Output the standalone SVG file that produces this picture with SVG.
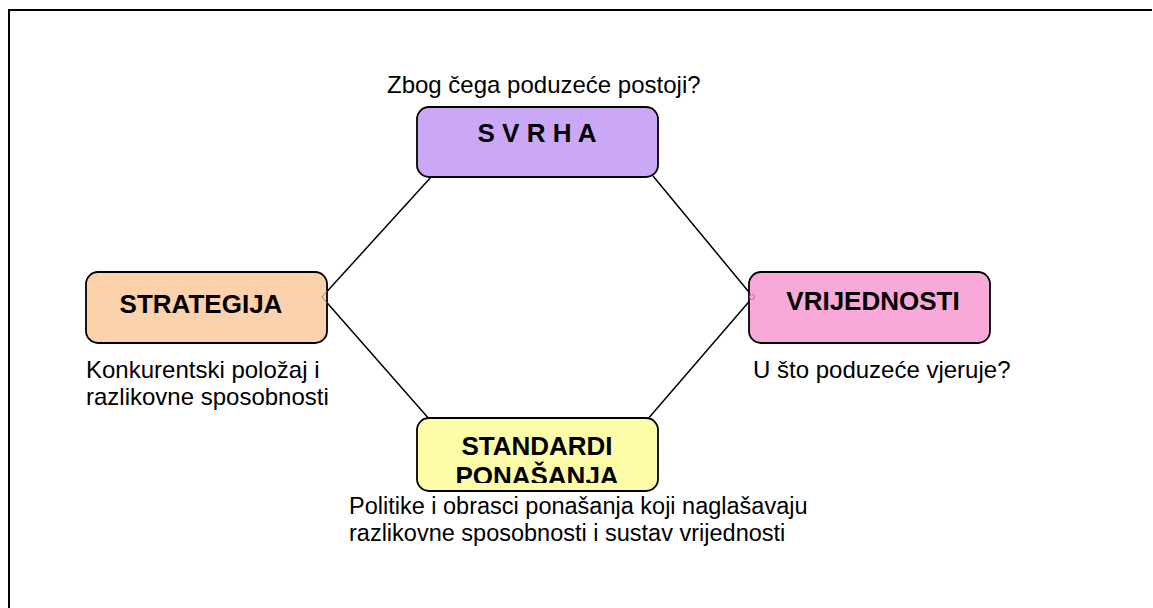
<svg xmlns="http://www.w3.org/2000/svg" width="1153" height="608" viewBox="0 0 1153 608">
<style>
.box{stroke:#000;stroke-width:1.8}
.lbl{font-family:"Liberation Sans",Arial,sans-serif;font-weight:bold;font-size:26px;fill:#000;text-anchor:middle}
.cap{font-family:"Liberation Sans",Arial,sans-serif;font-size:24px;fill:#000}
.cap2{font-family:"Liberation Sans",Arial,sans-serif;font-size:23.5px;fill:#000}
.conn{stroke:#000;stroke-width:1.5;fill:none}
</style>
<defs>
<clipPath id="clipStd"><rect x="417" y="418" width="241" height="65"/></clipPath>
</defs>
<rect width="1153" height="608" fill="#fff"/>
<path d="M9,608 V10 H1152" fill="none" stroke="#000" stroke-width="2"/>
<g id="connectors">
<line class="conn" x1="432" y1="176" x2="322" y2="297"/>
<line class="conn" x1="653" y1="176" x2="753" y2="297"/>
<line class="conn" x1="322" y1="297" x2="430" y2="420"/>
<line class="conn" x1="753" y1="297" x2="647" y2="420"/>
</g>
<g id="svrha">
<text class="cap" x="387" y="93">Zbog čega poduzeće postoji?</text>
<rect class="box" x="417" y="107" width="241" height="70" rx="12" fill="#CBA8F6"/>
<text class="lbl" x="537" y="142">S V R H A</text>
</g>
<g id="strategija">
<rect class="box" x="86" y="272" width="241" height="71" rx="12" fill="#FBD2AC"/>
<path d="M327,291 L322,297 L327,303" fill="none" stroke="#A07A5A" stroke-width="1"/>
<text class="lbl" x="201" y="313">STRATEGIJA</text>
<text class="cap" x="86" y="378">Konkurentski položaj i</text>
<text class="cap" x="86" y="405">razlikovne sposobnosti</text>
</g>
<g id="vrijednosti">
<rect class="box" x="749" y="272" width="241" height="71" rx="12" fill="#F8A9D8"/>
<circle cx="752" cy="297" r="2.5" fill="none" stroke="#C06090" stroke-width="0.8"/>
<text class="lbl" x="873" y="310">VRIJEDNOSTI</text>
<text class="cap" x="753" y="378">U što poduzeće vjeruje?</text>
</g>
<g id="standardi">
<rect class="box" x="417" y="418" width="241" height="73" rx="12" fill="#FDFDA9"/>
<g clip-path="url(#clipStd)">
<text class="lbl" x="537" y="455">STANDARDI</text>
<text class="lbl" x="537" y="485">PONAŠANJA</text>
</g>
<text class="cap2" x="349" y="514">Politike i obrasci ponašanja koji naglašavaju</text>
<text class="cap2" x="349" y="541">razlikovne sposobnosti i sustav vrijednosti</text>
</g>
</svg>
